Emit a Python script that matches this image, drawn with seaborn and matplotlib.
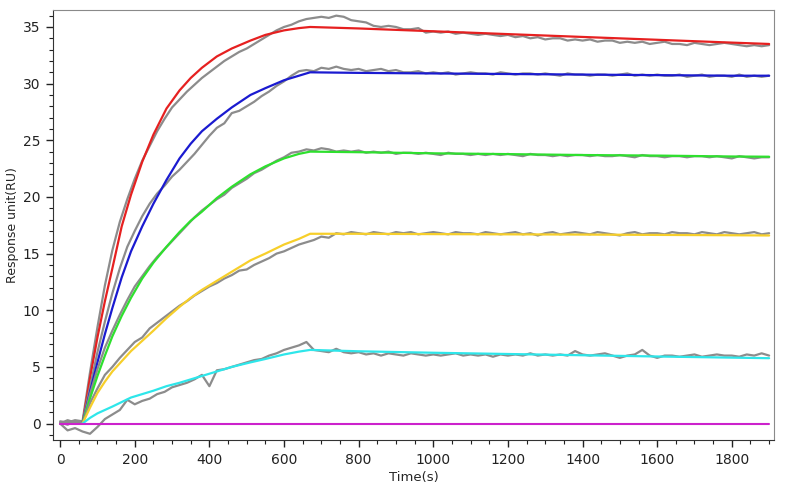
import numpy as np
import matplotlib
matplotlib.use("Agg")
import matplotlib.pyplot as plt
from matplotlib.ticker import MultipleLocator
import seaborn as sns

# measured sensorgrams (grey), sampled every 20 s from 0 to 1900 s
t_grey = np.arange(0, 1901, 20)

red_grey = [
    0.2, 0.1, 0.3, 0.2, 4.5, 8.5, 12.2, 15.3, 17.8, 19.8,
    21.6, 23.2, 24.5, 25.8, 26.9, 27.9, 28.6, 29.3, 29.9, 30.5,
    31.0, 31.5, 32.0, 32.4, 32.8, 33.1, 33.5, 33.9, 34.3, 34.7,
    35.0, 35.2, 35.5, 35.7, 35.8, 35.9, 35.8, 36.0, 35.9, 35.6,
    35.5, 35.4, 35.1, 35.0, 35.1, 35.0, 34.8, 34.8, 34.9, 34.5,
    34.6, 34.5, 34.6, 34.4, 34.5, 34.4, 34.3, 34.4, 34.3, 34.2,
    34.3, 34.1, 34.2, 34.0, 34.1, 33.9, 34.0, 34.0, 33.8, 33.9,
    33.8, 33.9, 33.7, 33.8, 33.8, 33.6, 33.7, 33.6, 33.7, 33.5,
    33.6, 33.7, 33.5, 33.5, 33.4, 33.6, 33.5, 33.4, 33.5, 33.6,
    33.5, 33.4, 33.3, 33.4, 33.3, 33.4]

blue_grey = [
    0.0, 0.2, 0.1, 0.1, 3.2, 6.3, 9.0, 11.5, 13.7, 15.6,
    17.0, 18.3, 19.4, 20.3, 21.0, 21.8, 22.4, 23.1, 23.8, 24.6,
    25.4, 26.1, 26.5, 27.4, 27.6, 28.0, 28.4, 28.9, 29.3, 29.8,
    30.2, 30.7, 31.1, 31.2, 31.1, 31.4, 31.3, 31.5, 31.3, 31.2,
    31.3, 31.1, 31.2, 31.3, 31.1, 31.2, 31.0, 31.0, 31.1, 30.9,
    31.0, 30.9, 31.0, 30.8, 30.9, 31.0, 30.9, 30.9, 30.8, 31.0,
    30.9, 30.8, 30.9, 30.9, 30.8, 30.9, 30.8, 30.7, 30.9, 30.8,
    30.8, 30.7, 30.8, 30.8, 30.7, 30.8, 30.9, 30.7, 30.8, 30.7,
    30.8, 30.7, 30.7, 30.8, 30.6, 30.7, 30.8, 30.6, 30.7, 30.7,
    30.6, 30.8, 30.6, 30.7, 30.6, 30.7]

green_grey = [
    0.1, -0.1, 0.2, 0.0, 2.6, 4.8, 6.7, 8.2, 9.6, 10.9,
    12.1, 13.0, 13.9, 14.7, 15.4, 16.1, 16.8, 17.5, 18.2, 18.8,
    19.3, 19.8, 20.2, 20.8, 21.2, 21.6, 22.1, 22.4, 22.8, 23.2,
    23.5, 23.9, 24.0, 24.2, 24.1, 24.3, 24.2, 24.0, 24.1, 24.0,
    24.1, 23.9, 24.0, 23.9, 24.0, 23.8, 23.9, 23.9, 23.8, 23.9,
    23.8, 23.7, 23.9, 23.8, 23.8, 23.7, 23.8, 23.7, 23.8, 23.7,
    23.8, 23.7, 23.6, 23.8, 23.7, 23.7, 23.6, 23.7, 23.6, 23.7,
    23.7, 23.6, 23.7, 23.6, 23.6, 23.7, 23.6, 23.5, 23.7, 23.6,
    23.6, 23.5, 23.6, 23.6, 23.5, 23.6, 23.6, 23.5, 23.6, 23.5,
    23.4, 23.6, 23.5, 23.4, 23.5, 23.5]

yellow_grey = [
    0.0, 0.3, 0.1, 0.0, 1.8, 3.1, 4.3, 5.0, 5.8, 6.5,
    7.2, 7.6, 8.4, 8.9, 9.4, 9.9, 10.4, 10.8, 11.3, 11.7,
    12.1, 12.4, 12.8, 13.1, 13.5, 13.6, 14.0, 14.3, 14.6, 15.0,
    15.2, 15.5, 15.8, 16.0, 16.2, 16.5, 16.4, 16.8, 16.7, 16.9,
    16.8, 16.7, 16.9, 16.8, 16.7, 16.9, 16.8, 16.9, 16.7, 16.8,
    16.9, 16.8, 16.7, 16.9, 16.8, 16.8, 16.7, 16.9, 16.8, 16.7,
    16.8, 16.9, 16.7, 16.8, 16.6, 16.8, 16.9, 16.7, 16.8, 16.9,
    16.8, 16.7, 16.9, 16.8, 16.7, 16.6, 16.8, 16.9, 16.7, 16.8,
    16.8, 16.7, 16.9, 16.8, 16.8, 16.7, 16.9, 16.8, 16.7, 16.9,
    16.8, 16.7, 16.8, 16.9, 16.7, 16.8]

cyan_grey = [
    0.0, -0.6, -0.4, -0.7, -0.9, -0.3, 0.4, 0.8, 1.2, 2.1,
    1.7, 2.0, 2.2, 2.6, 2.8, 3.2, 3.4, 3.6, 3.9, 4.3,
    3.3, 4.7, 4.8, 5.0, 5.2, 5.4, 5.6, 5.7, 6.0, 6.2,
    6.5, 6.7, 6.9, 7.2, 6.5, 6.4, 6.3, 6.6, 6.3, 6.2,
    6.3, 6.1, 6.2, 6.0, 6.2, 6.1, 6.0, 6.2, 6.1, 6.0,
    6.1, 6.0, 6.1, 6.2, 6.0, 6.1, 6.0, 6.1, 5.9, 6.1,
    6.0, 6.1, 6.0, 6.2, 6.0, 6.1, 6.0, 6.1, 6.0, 6.4,
    6.1, 6.0, 6.1, 6.2, 6.0, 5.8, 6.0, 6.1, 6.5, 6.0,
    5.8, 6.0, 6.0, 5.9, 6.0, 6.1, 5.9, 6.0, 6.1, 6.0,
    6.0, 5.9, 6.1, 6.0, 6.2, 6.0]

# fitted curves
t_fit = [60, 80, 100, 120, 140, 165, 190, 220, 250, 285, 320, 350, 380, 420,
         460, 510, 550, 600, 640, 670, 800, 1000, 1200, 1400, 1600, 1800, 1900]
red_fit = [0, 4.0, 7.6, 10.8, 13.7, 17.4, 20.2, 23.1, 25.5, 27.8, 29.4, 30.5,
           31.4, 32.4, 33.1, 33.8, 34.3, 34.7, 34.9, 35.0,
           34.87, 34.62, 34.37, 34.12, 33.87, 33.62, 33.5]
blue_fit = [0, 2.8, 5.4, 7.9, 10.2, 12.9, 15.2, 17.4, 19.4, 21.5, 23.4, 24.7,
            25.8, 26.9, 27.9, 29.0, 29.6, 30.3, 30.7, 31.0,
            30.95, 30.9, 30.85, 30.8, 30.75, 30.7, 30.7]
green_fit = [0, 2.2, 4.2, 6.0, 7.7, 9.5, 11.1, 12.8, 14.2, 15.6, 16.9, 17.9,
             18.7, 19.9, 20.9, 22.0, 22.7, 23.4, 23.8, 24.0,
             23.95, 23.85, 23.78, 23.7, 23.65, 23.57, 23.55]
yellow_fit = [0, 1.4, 2.7, 3.7, 4.6, 5.5, 6.4, 7.3, 8.2, 9.3, 10.3, 11.1,
              11.8, 12.6, 13.4, 14.4, 15.0, 15.8, 16.3, 16.75,
              16.75, 16.72, 16.7, 16.68, 16.65, 16.62, 16.6]
cyan_fit = [0, 0.5, 0.9, 1.2, 1.5, 1.9, 2.3, 2.6, 2.9, 3.3, 3.6, 3.9,
            4.2, 4.6, 5.0, 5.4, 5.7, 6.1, 6.35, 6.5,
            6.38, 6.25, 6.14, 6.03, 5.92, 5.82, 5.77]
t_blank = [0, 1900]
blank_fit = [0, 0]

sns.set_style("ticks")
plt.rcParams['font.family'] = ['DejaVu Sans']

fig = plt.figure(figsize=(7.88, 4.94), dpi=100)
ax = fig.add_axes([0.0673, 0.1093, 0.9149, 0.8705])

pairs = [(red_grey, red_fit, "#e62020"),
         (blue_grey, blue_fit, "#1a1ad0"),
         (green_grey, green_fit, "#2ee02e"),
         (yellow_grey, yellow_fit, "#f7cf2a"),
         (cyan_grey, cyan_fit, "#2ee6ea")]

for grey, fit, col in pairs:
    sns.lineplot(x=t_grey, y=grey, color="#8c8c8c", linewidth=1.6, ax=ax)
    sns.lineplot(x=t_fit, y=fit, color=col, linewidth=1.6, ax=ax)
sns.lineplot(x=t_blank, y=blank_fit, color="#cc22cc", linewidth=1.5, ax=ax)

ax.set_xlim(-19, 1913)
ax.set_ylim(-1.45, 36.5)
ax.xaxis.set_major_locator(MultipleLocator(200))
ax.xaxis.set_minor_locator(MultipleLocator(50))
ax.yaxis.set_major_locator(MultipleLocator(5))
ax.yaxis.set_minor_locator(MultipleLocator(1))
ax.tick_params(which='major', length=5, width=1, labelsize=10, pad=4,
               colors='#222222')
ax.tick_params(which='minor', length=3, width=0.8, color='#222222')

for s in ['top', 'right']:
    ax.spines[s].set_color('#8a8a8a')
for s in ['left', 'bottom']:
    ax.spines[s].set_color('#333333')

ax.set_xlabel('Time(s)', fontsize=9.5, labelpad=3)
ax.set_ylabel('Response unit(RU)', fontsize=9, labelpad=3)

fig.savefig("out.png", dpi=100)
